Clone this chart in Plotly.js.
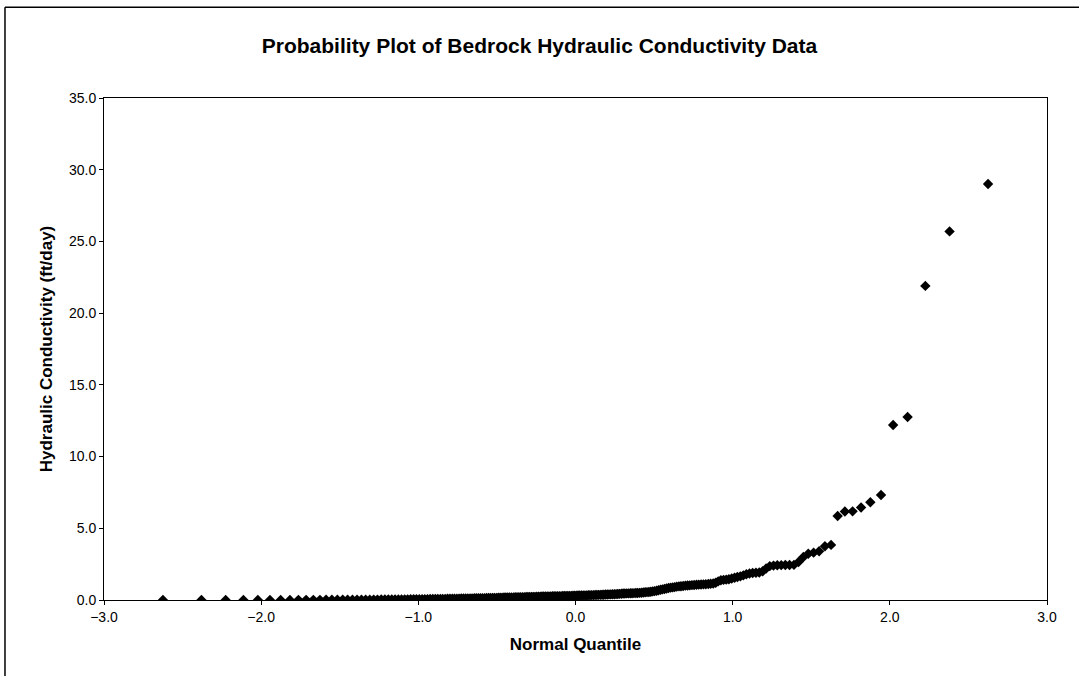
<!DOCTYPE html>
<html>
<head>
<meta charset="utf-8">
<script src="https://cdn.plot.ly/plotly-3.0.1.min.js"></script>
<style>
html,body{margin:0;padding:0;background:#fff;}
#chart{width:1079px;height:676px;}
</style>
</head>
<body>
<div id="chart"></div>
<script>
// Normal quantiles (x), ranks 1..230
var normalQuantile = [
-2.625,-2.380,-2.226,-2.113,-2.021,-1.944,-1.876,-1.817,-1.763,-1.714,
-1.668,-1.626,-1.587,-1.550,-1.515,-1.481,-1.450,-1.419,-1.390,-1.362,
-1.335,-1.309,-1.284,-1.260,-1.236,-1.213,-1.191,-1.169,-1.148,-1.127,
-1.107,-1.087,-1.068,-1.049,-1.030,-1.012,-0.994,-0.976,-0.959,-0.942,
-0.925,-0.908,-0.892,-0.876,-0.860,-0.845,-0.829,-0.814,-0.799,-0.784,
-0.770,-0.755,-0.741,-0.727,-0.713,-0.699,-0.685,-0.671,-0.658,-0.644,
-0.631,-0.618,-0.605,-0.592,-0.579,-0.566,-0.553,-0.541,-0.528,-0.516,
-0.503,-0.491,-0.479,-0.467,-0.455,-0.443,-0.431,-0.419,-0.407,-0.395,
-0.384,-0.372,-0.360,-0.349,-0.337,-0.326,-0.314,-0.303,-0.292,-0.280,
-0.269,-0.258,-0.247,-0.235,-0.224,-0.213,-0.202,-0.191,-0.180,-0.169,
-0.158,-0.147,-0.136,-0.125,-0.114,-0.103,-0.092,-0.081,-0.071,-0.060,
-0.049,-0.038,-0.027,-0.016,-0.005,
0.005,0.016,0.027,0.038,0.049,0.060,0.071,0.081,0.092,0.103,
0.114,0.125,0.136,0.147,0.158,0.169,0.180,0.191,0.202,0.213,
0.224,0.235,0.247,0.258,0.269,0.280,0.292,0.303,0.314,0.326,
0.337,0.349,0.360,0.372,0.384,0.395,0.407,0.419,0.431,0.443,
0.455,0.467,0.479,0.491,0.503,0.516,0.528,0.541,0.553,0.566,
0.579,0.592,0.605,0.618,0.631,0.644,0.658,0.671,0.685,0.699,
0.713,0.727,0.741,0.755,0.770,0.784,0.799,0.814,0.829,0.845,
0.860,0.876,0.892,0.908,0.925,0.942,0.959,0.976,0.994,1.012,
1.030,1.049,1.068,1.087,1.107,1.127,1.148,1.169,1.191,1.213,
1.236,1.260,1.284,1.309,1.335,1.362,1.390,1.419,1.450,1.481,
1.515,1.550,1.587,1.626,1.668,1.714,1.763,1.817,1.876,1.944,
2.021,2.113,2.226,2.380,2.625
];

// Hydraulic conductivity (ft/day), sorted
var conductivity = [
0.002,0.003,0.004,0.005,0.005,0.006,0.007,0.008,0.009,0.010,
0.011,0.012,0.013,0.014,0.015,0.016,0.018,0.019,0.020,0.022,
0.024,0.025,0.027,0.029,0.030,0.032,0.034,0.036,0.038,0.040,
0.042,0.044,0.046,0.048,0.050,0.052,0.055,0.057,0.060,0.062,
0.065,0.067,0.070,0.072,0.075,0.078,0.080,0.083,0.086,0.089,
0.092,0.095,0.098,0.10,0.10,0.10,0.11,0.11,0.11,0.12,
0.12,0.12,0.13,0.13,0.13,0.14,0.14,0.14,0.15,0.15,
0.15,0.16,0.16,0.16,0.17,0.17,0.17,0.18,0.18,0.18,
0.19,0.19,0.19,0.20,0.20,0.20,0.21,0.21,0.21,0.22,
0.22,0.22,0.23,0.23,0.23,0.24,0.24,0.24,0.25,0.25,
0.25,0.26,0.26,0.26,0.27,0.27,0.27,0.28,0.28,0.28,
0.29,0.29,0.29,0.30,0.30,
0.30,0.31,0.31,0.31,0.32,0.32,0.32,0.33,0.33,0.34,
0.34,0.35,0.35,0.36,0.36,0.37,0.37,0.38,0.38,0.39,
0.39,0.40,0.40,0.41,0.42,0.43,0.44,0.45,0.45,0.46,
0.46,0.47,0.47,0.48,0.49,0.49,0.50,0.51,0.52,0.54,
0.55,0.56,0.58,0.60,0.62,0.65,0.68,0.71,0.74,0.77,
0.80,0.84,0.86,0.88,0.90,0.93,0.95,0.96,0.98,1.00,
1.01,1.02,1.04,1.05,1.06,1.07,1.08,1.09,1.10,1.12,
1.13,1.15,1.20,1.30,1.38,1.40,1.42,1.45,1.50,1.55,
1.60,1.65,1.72,1.80,1.85,1.88,1.90,1.92,2.00,2.20,
2.36,2.40,2.42,2.43,2.44,2.44,2.45,2.65,3.00,3.22,
3.30,3.40,3.75,3.84,5.86,6.17,6.18,6.45,6.82,7.32,
12.2,12.76,21.9,25.7,29.0
];

var xTickVals = [-3, -2, -1, 0, 1, 2, 3];
var yTickVals = [0, 5, 10, 15, 20, 25, 30, 35];

var FONT = 'Liberation Sans, Arial, Helvetica, sans-serif';

var trace = {
  type: 'scatter',
  mode: 'markers',
  x: normalQuantile,
  y: conductivity,
  marker: {symbol: 'diamond', size: 8, color: '#000000', line: {width: 0}},
  hoverinfo: 'x+y',
  showlegend: false
};

var layout = {
  width: 1079,
  height: 676,
  paper_bgcolor: '#ffffff',
  plot_bgcolor: '#ffffff',
  font: {family: FONT, color: '#000000', size: 14},
  margin: {l: 104, r: 32, t: 98, b: 76, pad: 0},
  title: {
    text: 'Probability Plot of Bedrock Hydraulic Conductivity Data',
    font: {family: FONT, size: 21, weight: 700, color: '#000000'},
    x: 0.5, xref: 'container', xanchor: 'center',
    y: 0.932, yref: 'container', yanchor: 'middle'
  },
  xaxis: {
    range: [-3, 3],
    tickvals: xTickVals,
    tickformat: '.1f',
    ticks: 'outside', ticklen: 4, tickwidth: 1, tickcolor: '#000',
    showline: true, linecolor: '#000', linewidth: 1, mirror: true,
    showgrid: false, zeroline: false,
    tickfont: {family: FONT, size: 14, color: '#000'},
    title: {text: 'Normal Quantile', font: {family: FONT, size: 17, weight: 700, color: '#000'}, standoff: 14}
  },
  yaxis: {
    range: [0, 35],
    tickvals: yTickVals,
    tickformat: '.1f',
    ticks: 'outside', ticklen: 4, tickwidth: 1, tickcolor: '#000',
    showline: true, linecolor: '#000', linewidth: 1, mirror: true,
    showgrid: false, zeroline: false,
    tickfont: {family: FONT, size: 14, color: '#000'},
    title: {text: 'Hydraulic Conductivity (ft/day)', font: {family: FONT, size: 17, weight: 700, color: '#000'}, standoff: 12}
  },
  shapes: [
    {type: 'line', xref: 'paper', yref: 'paper', x0: -0.105, x1: 1.034, y0: 1.181, y1: 1.181, line: {color: '#000', width: 1.5}},
    {type: 'line', xref: 'paper', yref: 'paper', x0: -0.105, x1: -0.105, y0: 1.181, y1: -0.152, line: {color: '#000', width: 1.5}}
  ]
};

Plotly.newPlot('chart', [trace], layout, {displayModeBar: false, staticPlot: true});
</script>
</body>
</html>
